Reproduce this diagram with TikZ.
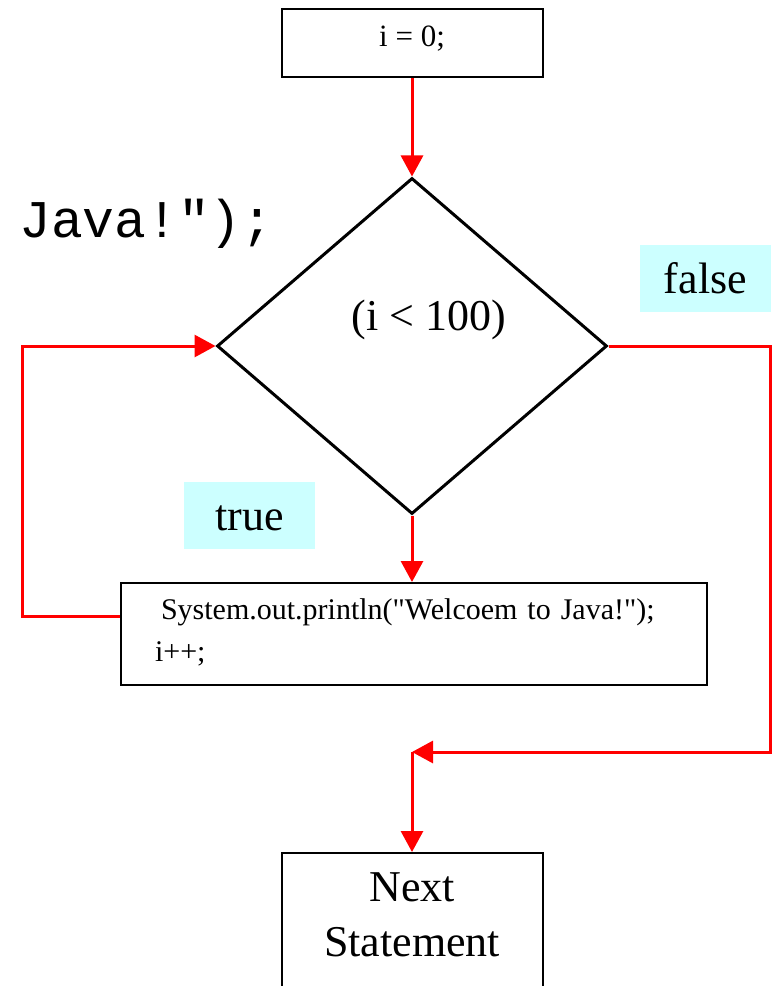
\documentclass[tikz,border=0pt]{standalone}
\usepackage{fontspec}
\setmainfont{Liberation Serif}[Ligatures=TeXOff]
\setmonofont{Liberation Mono}
\usetikzlibrary{arrows.meta,shapes.geometric}
\definecolor{FlowRed}{HTML}{FF0000}
\definecolor{BranchCyan}{HTML}{CCFFFF}

\begin{document}
\begin{tikzpicture}[x=1pt,y=-1pt,
    flow/.style={line width=3pt,color=FlowRed,-{Triangle[length=21pt,width=22pt]}},
    stmt/.style={draw,line width=2pt,inner sep=0pt},
    branch/.style={fill=BranchCyan,inner sep=0pt,minimum width=131pt,
      text height=48pt,text depth=19pt,font=\fontsize{44}{52}\selectfont}]
  \useasboundingbox (0,0) rectangle (773,986);

  \node[stmt,anchor=north,minimum width=261pt,text height=37pt,text depth=31pt,
    font=\fontsize{31}{40}\selectfont] (init) at (412,8) {i = 0;};
  \node[draw,diamond,line width=3pt,inner sep=0pt,
    minimum width=390pt,minimum height=336pt] (cond) at (412,346) {};
  \node[anchor=base,inner sep=0pt,font=\fontsize{44}{52}\selectfont]
    (condtext) at (429,330) {(i < 100)};
  \node[anchor=base west,inner sep=0pt,font=\ttfamily\fontsize{53}{60}\selectfont]
    (javatail) at (19,237) {Java!");};

  \node[branch] (false) at (705.5,278.5) {false};
  \node[branch] (true) at (249.5,515.5) {true};

  \node[stmt,anchor=north west,inner xsep=34pt,text width=518pt,align=left,
    text height=36pt,text depth=66pt,font=\fontsize{30}{42}\selectfont]
    (body) at (120,582)
    {\mbox{\hspace*{6pt}System.out.println("Welcoem to Java!");}\\i++;};
  \node[stmt,anchor=north,text width=261pt,align=center,
    text height=48pt,text depth=110pt,font=\fontsize{44}{55}\selectfont]
    (next) at (412,852) {Next\\Statement};

  \coordinate (bodyout) at (120,616);
  \coordinate (loopleft) at (22,616);
  \coordinate (farright) at (770,752);
  \coordinate (merge) at (412,752);

  \draw[flow] (init) -- (cond);
  \draw[flow] (cond.south) -- (cond.south |- body.north);
  \draw[flow] (bodyout) -- (loopleft) |- (cond.west);
  \draw[flow] (cond.east) -| (farright) -- (merge);
  \draw[flow] (merge) -- (merge |- next.north);
\end{tikzpicture}
\end{document}
